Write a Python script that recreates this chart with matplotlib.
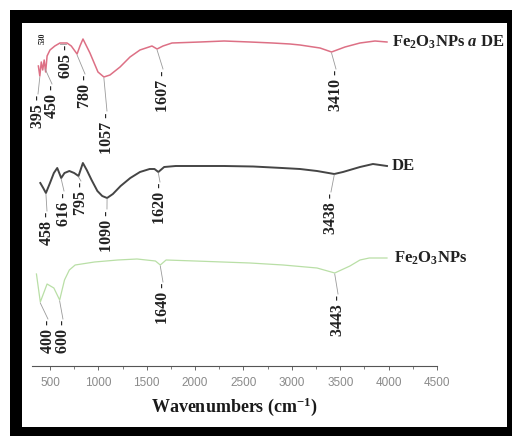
import numpy as np
import matplotlib
matplotlib.use("Agg")
import matplotlib.pyplot as plt
from matplotlib.patches import Rectangle

plt.rcParams["mathtext.fontset"] = "custom"
plt.rcParams["mathtext.rm"] = "Liberation Serif:bold"
plt.rcParams["mathtext.bf"] = "Liberation Serif:bold"
plt.rcParams["mathtext.it"] = "Liberation Serif:italic:bold"

# FTIR spectra (stacked transmittance, arbitrary units)
wn_comp = [380, 395, 410, 425, 440, 455, 470, 500, 550, 603, 676, 720, 780, 810,
           841, 913, 996, 1057, 1120, 1224, 1327, 1430, 1554, 1607, 1668, 1761,
           2050, 2300, 2567, 2800, 2981, 3084, 3291, 3410, 3549, 3704, 3859, 3983]
t_comp = [300, 290, 304, 296, 306, 294, 310, 316, 320, 323, 323, 320, 312, 320,
          327, 313, 294, 289, 291, 299, 309, 316, 320, 317, 320, 323,
          324, 325, 324, 323, 322, 321, 318, 314, 319, 323, 325, 324]

wn_de = [400, 430, 458, 500, 540, 575, 616, 650, 700, 750, 795, 840, 880, 930,
         990, 1040, 1090, 1150, 1230, 1330, 1430, 1530, 1580, 1620, 1680, 1800,
         2000, 2300, 2600, 2900, 3084, 3260, 3438, 3528, 3704, 3838, 3911, 3983]
t_de = [183, 178, 173, 183, 193, 198, 188, 193, 195, 193, 190, 203, 196, 186,
        175, 170, 168, 172, 180, 188, 194, 197, 197, 194, 199, 200,
        200, 200, 199.5, 198, 197, 195, 192, 194, 199, 202, 201, 200]

wn_np = [360, 400, 470, 540, 600, 650, 700, 760, 960, 1200, 1400, 1590, 1640,
         1700, 2000, 2567, 2910, 3260, 3443, 3600, 3704, 3800, 3983]
t_np = [92, 64, 82, 78, 66, 86, 96, 101, 104, 106, 107, 105, 101,
        106, 105, 103, 101, 98, 93, 100, 106, 108, 108]

# peak labels
peaks_comp = [395, 450, 605, 780, 1057, 1607, 3410]
peaks_de = [458, 616, 795, 1090, 1620, 3438]
peaks_np = [400, 600, 1640, 3443]

# label placement (x in cm-1, y = top of label)
lab_comp = [(376, 271), (521, 281), (665, 321), (862, 291), (1089, 254), (1668, 296), (3456, 296)]
lab_de = [(469, 154), (645, 174), (820, 184), (1089, 156), (1637, 183), (3404, 173)]
lab_np = [(479, 46), (634, 46), (1668, 83), (3477, 71)]

c_comp = "#dd7085"
c_de = "#454545"
c_np = "#b9dfa6"

fig = plt.figure(figsize=(5.14, 4.36), dpi=100)
ax = fig.add_axes([31.6 / 514, 70 / 436, (437 - 31.6) / 514, 346 / 436])
ax.set_xlim(310, 4500)
ax.set_ylim(0, 346)

ax.plot(wn_comp, t_comp, color=c_comp, lw=1.1)
ax.plot(wn_de, t_de, color=c_de, lw=1.4)
ax.plot(wn_np, t_np, color=c_np, lw=0.9)

serif = "Liberation Serif"


def mark_peaks(peaks, labels, wn, t):
    for p, (lx, ly) in zip(peaks, labels):
        y0 = np.interp(p, wn, t)
        ax.plot([p, lx], [y0 - 1, ly + 1], color="#9a9a9a", lw=0.6)
        ax.text(lx, ly, f"{p} -", rotation=90, ha="center", va="top",
                family=serif, fontweight="bold", fontsize=11.5, color="#222222")


mark_peaks(peaks_comp, lab_comp, wn_comp, t_comp)
mark_peaks(peaks_de, lab_de, wn_de, t_de)
mark_peaks(peaks_np, lab_np, wn_np, t_np)
ax.text(428, 333, "530", rotation=90, ha="center", va="top", family=serif,
        fontweight="bold", fontsize=5.5, color="#222222")

# series names at the right end of each trace
ax.text(4030, t_comp[-1], r"Fe$_\mathbf{2}$O$_\mathbf{3}$NPs $\mathit{a}$ DE",
        ha="left", va="center", family=serif, fontweight="bold", fontsize=12,
        color="#222222")
ax.text(4030, t_de[-1], "DE", ha="left", va="center", family=serif,
        fontweight="bold", fontsize=12, color="#222222")
ax.text(4060, t_np[-1], r"Fe$_\mathbf{2}$O$_\mathbf{3}$NPs", ha="left",
        va="center", family=serif, fontweight="bold", fontsize=12,
        color="#222222")

for s in ["left", "right", "top"]:
    ax.spines[s].set_visible(False)
ax.spines["bottom"].set_color("#555555")
ax.spines["bottom"].set_linewidth(0.8)
ax.set_yticks([])
ax.set_xticks(np.arange(500, 4501, 500))
ax.set_xticks(np.arange(750, 4500, 500), minor=True)
ax.tick_params(axis="x", which="major", direction="out", length=3, width=0.7,
               colors="#666666", labelsize=8.5, labelcolor="#8a8a8a", pad=5)
ax.tick_params(axis="x", which="minor", direction="out", length=2, width=0.6,
               colors="#666666")
for lab in ax.get_xticklabels():
    lab.set_family("Liberation Sans")

fig.text(234 / 514, 1 - 407 / 436, r"Wavenumbers (cm$^{\mathbf{-1}}$)",
         ha="center", va="center", family=serif, fontweight="bold",
         fontsize=13, color="#1a1a1a")


# black frame
def px_rect(x0, y0, x1, y1):
    fig.add_artist(Rectangle((x0 / 514, 1 - y1 / 436), (x1 - x0) / 514,
                             (y1 - y0) / 436, transform=fig.transFigure,
                             facecolor="black", edgecolor="none"))


px_rect(10, 10, 512, 23)
px_rect(10, 10, 22, 436)
px_rect(10, 427, 512, 436)
px_rect(507, 10, 512, 436)

fig.savefig("out.png", dpi=100)
